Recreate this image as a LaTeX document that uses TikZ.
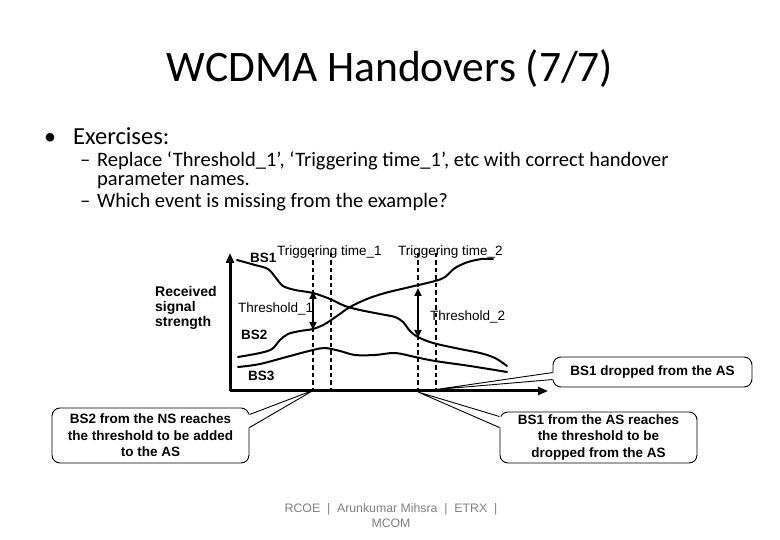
\documentclass[tikz,border=0pt]{standalone}
\usepackage{fontspec}
\setmainfont{Carlito}
\newfontfamily\arialf{Liberation Sans}
\usetikzlibrary{arrows.meta,calc}
\tikzset{
  axisline/.style={line width=3pt, -{Triangle[length=10pt,width=8pt]}},
  sigcurve/.style={line width=2pt, line join=round, line cap=round},
  trigline/.style={line width=2pt, dash pattern=on 4.5pt off 3pt},
  thrarrow/.style={line width=2pt, {Triangle[length=8pt,width=7pt]}-{Triangle[length=8pt,width=7pt]}},
  lbl/.style={font=\arialf\fontsize{13.5}{16}\selectfont, inner sep=0pt},
  blbl/.style={font=\arialf\bfseries\fontsize{13.5}{15}\selectfont, inner sep=0pt},
  callbox/.style={draw, line width=0.9pt, rounded corners=8pt, fill=white, align=center,
    font=\arialf\bfseries\fontsize{13.5}{16.5}\selectfont, inner sep=0pt},
  pointer/.style={line width=0.9pt},
  slidetext/.style={inner sep=0pt, font=\fontsize{20.5}{24}\selectfont},
}
\begin{document}
\begin{tikzpicture}[x=1pt,y=-1pt]
\useasboundingbox[fill=white] (0,0) rectangle (780,540);

% title and bullets
\node[anchor=base, inner sep=0pt, font=\fontsize{43.5}{50}\selectfont] (title) at (390,82) {WCDMA Handovers (7/7)};
\node[anchor=base, inner sep=0pt, font=\fontsize{24}{28}\selectfont] (bul) at (50,145) {•};
\node[anchor=base west, inner sep=0pt, font=\fontsize{24.5}{28}\selectfont] (ex) at (73,145) {Exercises:};
\node[anchor=base west, slidetext] (dash1) at (80,167) {–};
\node[anchor=base west, slidetext] (l1) at (97,167) {Replace ‘Threshold\_1’, ‘Triggering time\_1’, etc with correct handover};
\node[anchor=base west, slidetext] (l2) at (97,186) {parameter names.};
\node[anchor=base west, slidetext] (dash2) at (80,208) {–};
\node[anchor=base west, slidetext] (l3) at (97,208) {Which event is missing from the example?};

% axes
\coordinate (O) at (230,391);
\coordinate (ytop) at (230,253);
\coordinate (xend) at (548,391);

% trigger dashed lines
\coordinate (d1t) at (313,253); \coordinate (d1b) at (313,391);
\coordinate (d2t) at (331,253); \coordinate (d2b) at (331,391);
\coordinate (d3t) at (418,253); \coordinate (d3b) at (418,391);
\coordinate (d4t) at (436,253); \coordinate (d4b) at (436,391);
\draw[trigline] (d1t) -- (d1b);
\draw[trigline] (d2t) -- (d2b);
\draw[trigline] (d3t) -- (d3b);
\draw[trigline] (d4t) -- (d4b);

% signal curves
\draw[sigcurve] plot[smooth, tension=0.55] coordinates {(237,260) (255,265) (268,269) (276,278) (283,286) (295,290) (313,293) (330,299) (345,306) (360,310) (380,314) (395,317) (403,322) (410,331) (418,337) (433,343) (460,349) (480,353) (495,358) (507,366)};
\draw[sigcurve] plot[smooth, tension=0.55] coordinates {(238,357) (260,353) (272,349) (280,340) (288,334) (300,331) (313,329) (325,324) (337,316) (350,307) (367,299) (385,293) (410,287) (435,281) (445,277) (455,268) (468,262) (482,259) (493,259)};
\draw[sigcurve] plot[smooth, tension=0.55] coordinates {(238,367) (260,364) (290,356) (313,350) (325,348) (340,351) (355,355) (375,355) (395,353) (415,357) (435,361) (470,366) (507,372)};

\draw[axisline] (O) -- (ytop);
\draw[axisline] (O) -- (xend);

% threshold arrows
\coordinate (a1t) at (313,291); \coordinate (a1b) at (313,330);
\coordinate (a2t) at (418,288); \coordinate (a2b) at (418,338);
\draw[thrarrow] (a1t) -- (a1b);
\draw[thrarrow] (a2t) -- (a2b);

% labels
\node[lbl, anchor=base] (tt1) at (329.5,256) {Triggering time\_1};
\node[lbl, anchor=base] (tt2) at (450.5,256) {Triggering time\_2};
\node[lbl, anchor=base west] (th1) at (238,313) {Threshold\_1};
\node[lbl, anchor=base west] (th2) at (430,321) {Threshold\_2};
\node[blbl, anchor=base west] (bs1) at (250,263) {BS1};
\node[blbl, anchor=base west] (bs2) at (241,340) {BS2};
\node[blbl, anchor=base west] (bs3) at (248,381) {BS3};
\node[blbl, anchor=base west, font=\arialf\bfseries\fontsize{14}{15}\selectfont] (rs1) at (155,297) {Received};
\node[blbl, anchor=base west, font=\arialf\bfseries\fontsize{14}{15}\selectfont] (rs2) at (155,312) {signal};
\node[blbl, anchor=base west, font=\arialf\bfseries\fontsize{14}{15}\selectfont] (rs3) at (155,327) {strength};

% callouts
\node[callbox, minimum width=197pt, minimum height=55pt] (c1) at (150.5,435.5)
  {BS2 from the NS reaches\\the threshold to be added\\to the AS};
\coordinate (tipL) at (314,390);
\coordinate (p1) at ($(c1.north east)+(0,7)$);
\coordinate (p2) at ($(c1.north east)+(0,20)$);
\fill[white] ($(p1)+(-1.5,0)$) -- (tipL) -- ($(p2)+(-1.5,0)$) -- cycle;
\draw[pointer] (p1) -- (tipL) -- (p2);

\node[callbox, minimum width=199pt, minimum height=30pt] (c2) at (652.5,372)
  {BS1 dropped from the AS};
\coordinate (tipR1) at (436,389.5);
\coordinate (q1) at ($(c2.north west)+(0,16)$);
\coordinate (q2) at ($(c2.north west)+(0,23)$);
\fill[white] ($(q1)+(1.5,0)$) -- (tipR1) -- ($(q2)+(1.5,0)$) -- cycle;
\draw[pointer] (q1) -- (tipR1) -- (q2);

\node[callbox, minimum width=197pt, minimum height=51pt] (c3) at (598.5,437.5)
  {BS1 from the AS reaches\\the threshold to be\\dropped from the AS};
\coordinate (tipR2) at (418,392);
\coordinate (r1) at ($(c3.north west)+(0,5)$);
\coordinate (r2) at ($(c3.north west)+(0,16)$);
\fill[white] ($(r1)+(1.5,0)$) -- (tipR2) -- ($(r2)+(1.5,0)$) -- cycle;
\draw[pointer] (r1) -- (tipR2) -- (r2);

% footer
\node[anchor=base, inner sep=0pt, text=black!50, font=\arialf\fontsize{12.3}{15}\selectfont] (f1) at (391,512) {RCOE~~|~~Arunkumar Mihsra~~|~~ETRX~~|};
\node[anchor=base, inner sep=0pt, text=black!50, font=\arialf\fontsize{12.3}{15}\selectfont] (f2) at (391,527) {MCOM};
\end{tikzpicture}
\end{document}
